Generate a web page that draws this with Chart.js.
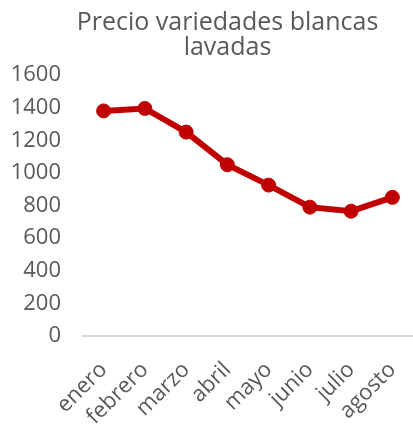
<!DOCTYPE html>
<html>
<head>
<meta charset="utf-8">
<script src="https://cdn.jsdelivr.net/npm/chart.js@4/dist/chart.umd.min.js"></script>
<style>
html,body{margin:0;padding:0;background:#fff;}
#wrap{width:413px;height:424px;}
</style>
</head>
<body>
<div id="wrap"><canvas id="c" width="413" height="424"></canvas></div>
<script>
const categories = ["enero","febrero","marzo","abril","mayo","junio","julio","agosto"];
const precio = [1380, 1395, 1250, 1050, 925, 790, 765, 850];
const yTicks = [0,200,400,600,800,1000,1200,1400,1600];
const titleLines = ["Precio variedades blancas","lavadas"];

const gray = "#595959";
const font = "'Open Sans', Lato, sans-serif";

const shiftTitle = {
  id: "shiftTitle",
  afterLayout(chart) {
    if (chart.titleBlock) { chart.titleBlock.left = 42; }
  }
};

new Chart(document.getElementById("c"), {
  type: "line",
  data: {
    labels: categories,
    datasets: [{
      data: precio,
      borderColor: "#C00000",
      backgroundColor: "#C00000",
      borderWidth: 6,
      pointRadius: 7,
      pointHoverRadius: 7,
      pointBorderWidth: 1,
      pointBackgroundColor: "#C00000",
      pointBorderColor: "#C00000",
      tension: 0,
      clip: false
    }]
  },
  plugins: [shiftTitle],
  options: {
    responsive: false,
    animation: false,
    devicePixelRatio: 1,
    layout: { autoPadding: false, padding: { left: 0, right: 0, top: 0, bottom: 0 } },
    plugins: {
      legend: { display: false },
      tooltip: { enabled: false },
      title: {
        display: true,
        text: titleLines,
        color: gray,
        font: { family: font, size: 25, weight: "normal", lineHeight: 1.0 },
        padding: { top: 10, bottom: 15 }
      }
    },
    scales: {
      x: {
        offset: true,
        afterFit: (s) => { s.height = 88; s.paddingLeft = 0; s.paddingRight = 0; },
        grid: { display: false, drawTicks: false },
        border: { display: true, color: "#D9D9D9", width: 2 },
        ticks: {
          color: gray,
          font: { family: font, size: 22, weight: "normal" },
          maxRotation: 45, minRotation: 45,
          padding: 21,
          autoSkip: false
        }
      },
      y: {
        min: 0, max: 1600,
        afterBuildTicks: (s) => { s.ticks = yTicks.map(v => ({ value: v })); },
        afterFit: (s) => { s.width = 83; },
        grid: { display: false, drawTicks: false },
        border: { display: false },
        ticks: {
          color: gray,
          font: { family: font, size: 22, weight: "normal" },
          padding: 22,
          callback: (v) => String(v)
        }
      }
    }
  }
});
</script>
</body>
</html>
